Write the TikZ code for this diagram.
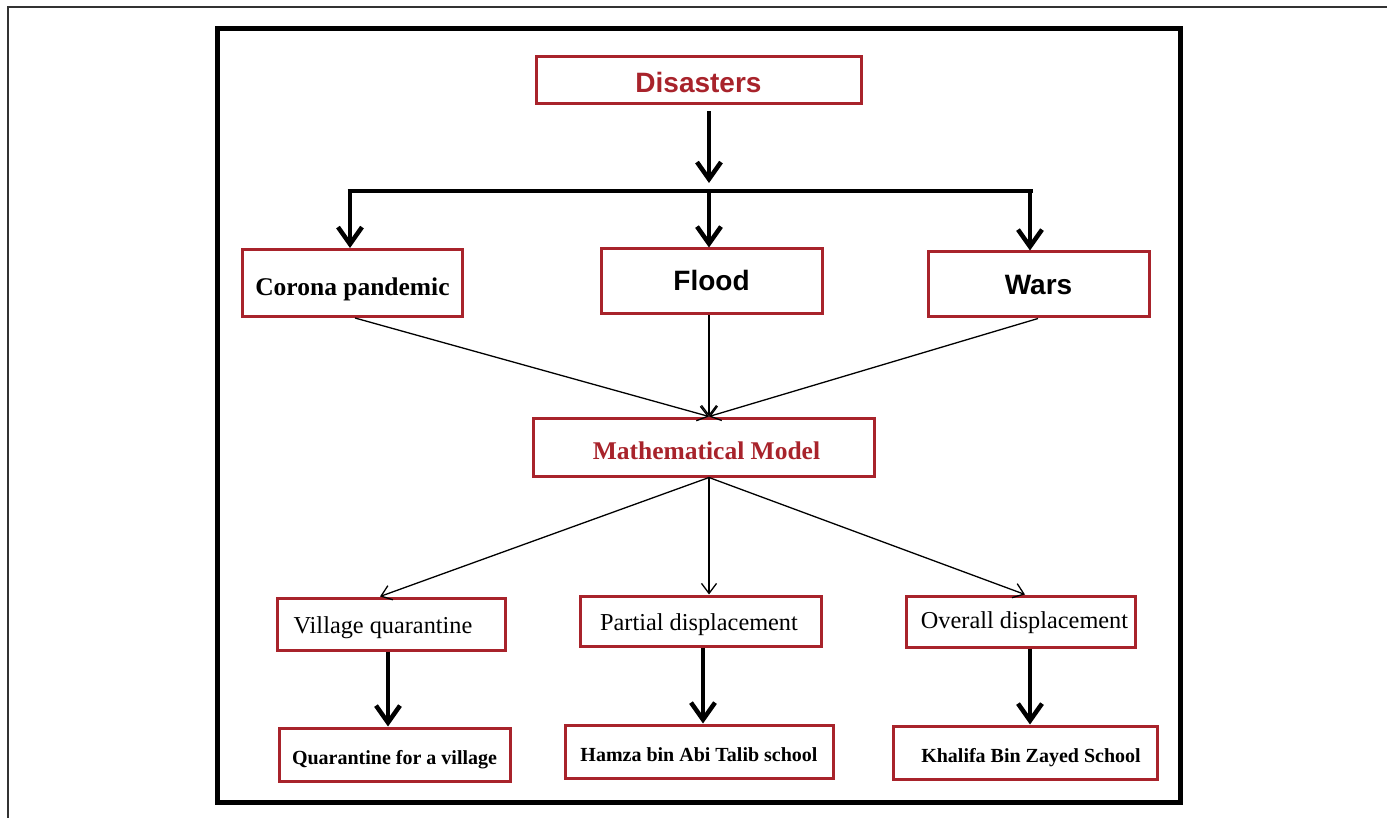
\documentclass[tikz,border=0pt]{standalone}
\usepackage{fontspec}
\setmainfont{Liberation Serif}
\newfontfamily\arialfont{Liberation Sans}
\usetikzlibrary{arrows.meta,calc}
\definecolor{boxred}{HTML}{A8232B}
\definecolor{framegray}{HTML}{333333}
\newcommand{\lowerby}[2]{\raisebox{-#1}[\height][\depth]{#2}}
\tikzset{
  box/.style={draw=boxred, line width=3pt, fill=white, inner sep=0pt, align=center},
  bigarrow/.style={line width=4.5pt, -{Straight Barb[length=17pt,width=24pt]}},
  barline/.style={line width=4.5pt},
  thinarrow/.style={line width=1.3pt, -{Straight Barb[length=10pt,width=15pt]}},
  sanstitle/.style={font=\arialfont\bfseries\fontsize{28}{32}\selectfont},
  serifbig/.style={font=\bfseries\fontsize{25.5}{30}\selectfont},
  serifmid/.style={font=\fontsize{24.3}{28}\selectfont},
  serifsmall/.style={font=\bfseries\fontsize{20}{24}\selectfont}
}
\begin{document}
\begin{tikzpicture}[x=1pt,y=-1pt]
\useasboundingbox (0,0) rectangle (1387,818);
% outer frame (left and top only)
\draw[framegray, line width=2pt] (8,818) -- (8,7) -- (1387,7);
% inner frame
\draw[black, line width=5pt, fill=white] (217.5,29) rectangle (1180,802);

% nodes
\node[box, sanstitle, text=boxred, minimum width=325pt, minimum height=47pt] (dis) at (698.5,80.5) {\lowerby{2pt}{Disasters}};
\node[box, serifbig, minimum width=220pt, minimum height=67pt] (cor) at (352.5,283) {\lowerby{6pt}{Corona pandemic}};
\node[box, sanstitle, minimum width=221pt, minimum height=65pt] (fl) at (711.5,281.5) {\lowerby{-1pt}{Flood}};
\node[box, sanstitle, minimum width=221pt, minimum height=65pt] (war) at (1038.5,284.5) {\lowerby{1pt}{Wars}};
\node[box, serifbig, text=boxred, minimum width=341pt, minimum height=58pt] (mm) at (703.5,447) {\hspace*{6pt}\lowerby{4pt}{Mathematical Model}};
\node[box, serifmid, minimum width=228pt, minimum height=52pt] (vq) at (391,624) {\lowerby{4pt}{Village quarantine}\hspace*{16pt}};
\node[box, serifmid, minimum width=241pt, minimum height=50pt] (pd) at (700.5,621) {\lowerby{4pt}{Partial displacement}\hspace*{3pt}};
\node[box, serifmid, minimum width=229pt, minimum height=51pt] (od) at (1020.5,621.5) {\hspace*{8pt}\lowerby{1pt}{Overall displacement}};
\node[box, serifsmall, minimum width=231pt, minimum height=53pt] (qv) at (394.5,754.5) {\lowerby{5pt}{Quarantine for a village}};
\node[box, serifsmall, minimum width=268pt, minimum height=53pt] (hz) at (699,751.5) {\lowerby{3pt}{Hamza bin Abi Talib school}};
\node[box, serifsmall, minimum width=264pt, minimum height=53pt] (kz) at (1025,752.5) {\hspace*{12pt}\lowerby{5pt}{Khalifa Bin Zayed School}};

% junction
\coordinate (j) at (709,191);
\coordinate (jl) at (350,191);
\coordinate (jr) at (1030,191);

% top distribution
\draw[bigarrow] ([xshift=10.5pt,yshift=-6pt]dis.south) -- ([yshift=8pt]j);
\draw[barline] ([xshift=-2.5pt]jl) -- ([xshift=2.5pt]jr);
\draw[bigarrow] (jl) -- (jl |- cor.north);
\draw[bigarrow] (j) -- (j |- fl.north);
\draw[bigarrow] (jr) -- (jr |- war.north);

% into mathematical model
\coordinate (mmtop) at ([xshift=5.5pt]mm.north);
\draw[thinarrow] ([xshift=2.5pt]cor.south) -- (mmtop);
\draw[thinarrow] ([xshift=-2.5pt]fl.south) -- (mmtop);
\draw[thinarrow] ([xshift=-0.5pt]war.south) -- (mmtop);

% out of mathematical model
\coordinate (mmbot) at ([xshift=5.5pt]mm.south);
\draw[thinarrow] (mmbot) -- ([xshift=-11pt]vq.north);
\draw[thinarrow] (mmbot) -- ([xshift=8.5pt]pd.north);
\draw[thinarrow] (mmbot) -- ([xshift=4.5pt]od.north);

% down to schools
\coordinate (vqs) at ([xshift=-3pt]vq.south);
\coordinate (pds) at ([xshift=2.5pt]pd.south);
\coordinate (ods) at ([xshift=9.5pt]od.south);
\draw[bigarrow] (vqs) -- (vqs |- qv.north);
\draw[bigarrow] (pds) -- (pds |- hz.north);
\draw[bigarrow] (ods) -- (ods |- kz.north);
\end{tikzpicture}
\end{document}
